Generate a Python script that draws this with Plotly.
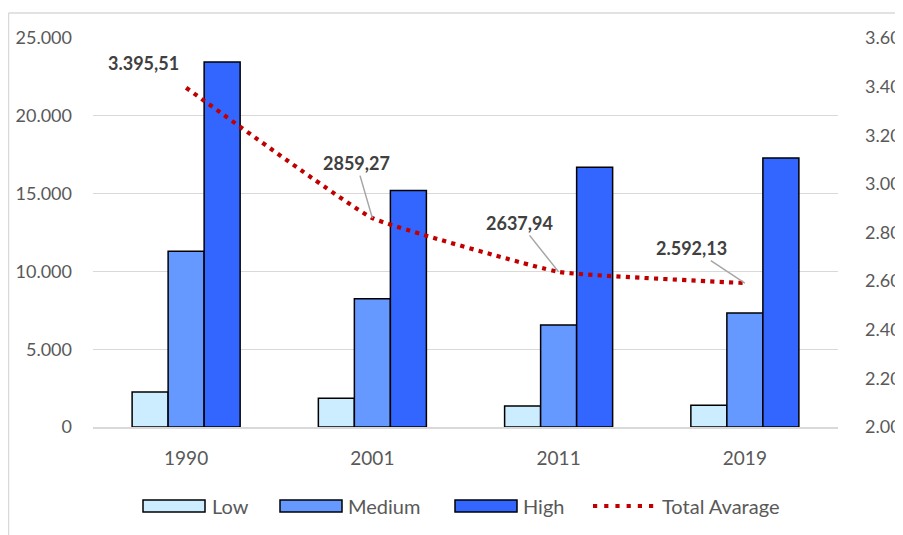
import plotly.graph_objects as go

years = ["1990", "2001", "2011", "2019"]
low = [2250, 1850, 1350, 1400]
medium = [11300, 8250, 6550, 7330]
high = [23450, 15200, 16700, 17280]
total_avg = [3395.51, 2859.27, 2637.94, 2592.13]
avg_labels = ["3.395,51", "2859,27", "2637,94", "2.592,13"]

W, H = 903, 535
OFF = 8  # page body margin
# plot area in reference (screenshot) pixels
L, R, T, B = 93, 838, 38, 427

def px(x):
    return (x - L) / (R - L)

def py(y):
    return (B - y) / (B - T)

FONT = "Lato, Calibri, sans-serif"
TICK = "#595959"

fig = go.Figure()
cols = ["#CCECFF", "#6699FF", "#3366FF"]
for name, vals, c in zip(["Low", "Medium", "High"], [low, medium, high], cols):
    fig.add_trace(go.Bar(x=years, y=vals, name=name, marker=dict(color=c, line=dict(color="black", width=1.5)),
                         showlegend=False))
fig.add_trace(go.Scatter(x=years, y=total_avg, yaxis="y2", mode="lines", name="Total Avarage",
                         line=dict(color="#C00000", width=4.2, dash="4.2px,5.2px", shape="spline", smoothing=0.3),
                         showlegend=False))

# data labels
offsets = [(-43, -25), (-16, -55), (-39, -49), (-53, -35)]
for i, (v, lab) in enumerate(zip(total_avg, avg_labels)):
    ax, ay = offsets[i]
    if i == 0:
        fig.add_annotation(x=i, y=v, xref="x", yref="y2", text="<b>%s</b>" % lab, showarrow=False,
                           xshift=ax, yshift=-ay, font=dict(family=FONT, size=18, color="#404040"))
    else:
        fig.add_annotation(x=i, y=v, xref="x", yref="y2", text="<b>%s</b>" % lab, showarrow=True,
                           ax=ax, ay=ay, arrowhead=0, arrowwidth=1.5, arrowcolor="#A6A6A6",
                           standoff=0, font=dict(family=FONT, size=18, color="#404040"))

# custom legend
shapes = []
leg_y = 506
items = [("Low", cols[0], 143, 210), ("Medium", cols[1], 280, 346), ("High", cols[2], 455, 521)]
for name, c, x0, tx in items:
    shapes.append(dict(type="rect", xref="paper", yref="paper", x0=px(x0), x1=px(x0 + 62),
                       y0=py(leg_y + 6), y1=py(leg_y - 6), fillcolor=c, line=dict(color="black", width=1.5)))
    fig.add_annotation(xref="paper", yref="paper", x=px(tx), y=py(leg_y), text=name, showarrow=False,
                       xanchor="left", yanchor="middle", font=dict(family=FONT, size=20, color=TICK))
shapes.append(dict(type="line", xref="paper", yref="paper", x0=px(593), x1=px(655), y0=py(leg_y), y1=py(leg_y),
                   line=dict(color="#C00000", width=4.2, dash="4.2px,7px")))
fig.add_annotation(xref="paper", yref="paper", x=px(660), y=py(leg_y), text="Total Avarage", showarrow=False,
                   xanchor="left", yanchor="middle", font=dict(family=FONT, size=20, color=TICK))

# outer border (top & left)
shapes.append(dict(type="line", xref="paper", yref="paper", x0=px(8.5), x1=px(910), y0=py(13), y1=py(13),
                   line=dict(color="#D9D9D9", width=1.5)))
shapes.append(dict(type="line", xref="paper", yref="paper", x0=px(8.5), x1=px(8.5), y0=py(13), y1=py(545),
                   line=dict(color="#D9D9D9", width=1.5)))

fig.update_layout(
    width=W, height=H,
    margin=dict(l=L - OFF, r=W - (R - OFF), t=T - OFF, b=H - (B - OFF), autoexpand=False),
    plot_bgcolor="white", paper_bgcolor="white",
    separators=",.",
    barmode="group", bargap=0.42, bargroupgap=0,
    font=dict(family=FONT, size=18, color=TICK),
    shapes=shapes,
    xaxis=dict(type="category", range=[-0.5, 3.5], autorange=False, showline=True, linecolor="#D9D9D9",
               linewidth=1.5, showgrid=False, automargin=False,
               ticks="", tickfont=dict(family=FONT, size=19, color=TICK), ticklabelstandoff=13),
    yaxis=dict(range=[0, 25000], autorange=False, dtick=5000, tickformat=",.0f", showgrid=True,
               gridcolor="#D9D9D9", automargin=False,
               gridwidth=1.2, zeroline=False, ticks="", ticklabelstandoff=20,
               tickfont=dict(family=FONT, size=18, color=TICK)),
    yaxis2=dict(range=[2000, 3600], autorange=False, dtick=200, tickformat=",.0f", overlaying="y",
                side="right", automargin=False,
                showgrid=False, zeroline=False, ticks="", ticklabelstandoff=26,
                tickfont=dict(family=FONT, size=18, color=TICK)),
)

fig.write_html("out.html")
